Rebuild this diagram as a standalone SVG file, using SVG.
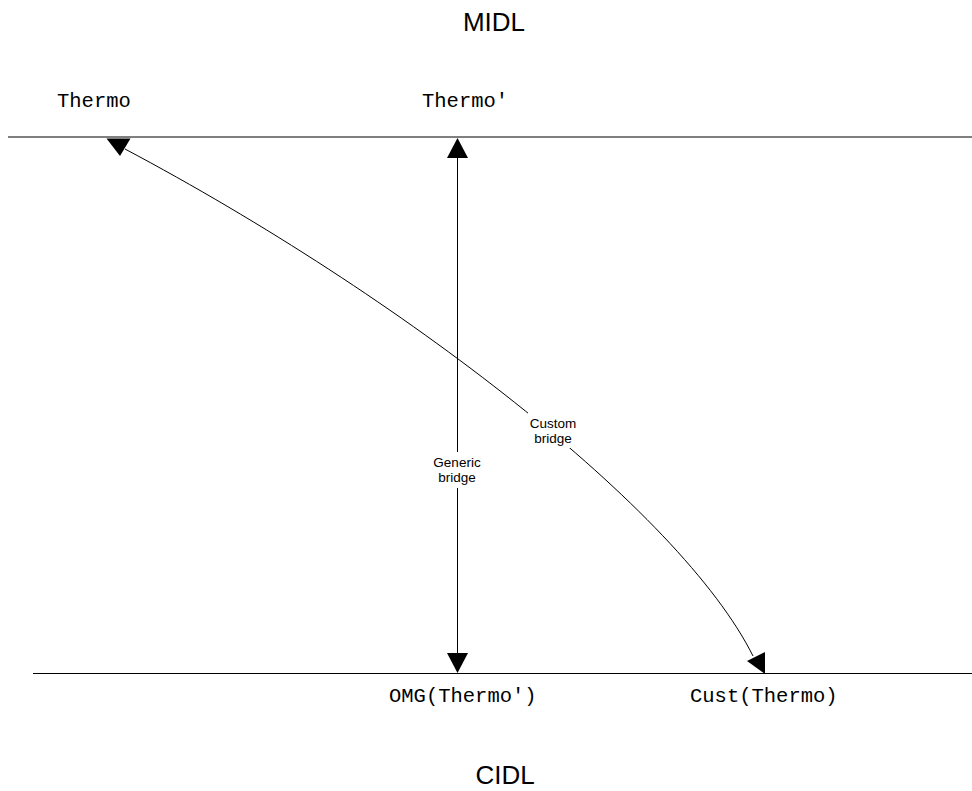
<svg xmlns="http://www.w3.org/2000/svg" width="972" height="791" viewBox="0 0 972 791">
  <style>
    .title { font-family: "Liberation Sans", Arial, sans-serif; font-size: 26px; fill: #000; text-anchor: middle; }
    .mono { font-family: "Courier New", "Liberation Mono", monospace; font-size: 20.5px; fill: #000; }
    .lbl { font-family: "Liberation Sans", Arial, sans-serif; font-size: 13.5px; fill: #000; text-anchor: middle; }
    .rule { stroke: #000; stroke-width: 1; fill: none; }
    .conn { stroke: #000; stroke-width: 1; fill: none; }
    .head { fill: #000; stroke: none; }
  </style>
  <rect width="972" height="791" fill="#fff"/>

  <!-- layer titles -->
  <g id="midl-layer">
    <text class="title" x="494" y="31">MIDL</text>
    <line class="rule" x1="8" y1="137" x2="972" y2="137"/>
  </g>
  <g id="cidl-layer">
    <text class="title" x="505" y="784">CIDL</text>
    <line class="rule" x1="33" y1="673.5" x2="972" y2="673.5"/>
  </g>

  <!-- interface nodes -->
  <g id="thermo"><text class="mono" x="57" y="107">Thermo</text></g>
  <g id="thermo-prime"><text class="mono" x="422" y="107">Thermo'</text></g>
  <g id="omg-thermo-prime"><text class="mono" x="389" y="702">OMG(Thermo')</text></g>
  <g id="cust-thermo"><text class="mono" x="690" y="702">Cust(Thermo)</text></g>

  <!-- bridges -->
  <g id="connectors">
    <!-- generic bridge: two-way vertical arrow -->
    <line class="conn" x1="457.5" y1="157" x2="457.5" y2="452"/>
    <line class="conn" x1="457.5" y1="488" x2="457.5" y2="654"/>
    <polygon class="head" points="457.5,138 447,158 468,158"/>
    <polygon class="head" points="457.5,673 447,653 468,653"/>
    <text class="lbl" x="457" y="467">Generic</text>
    <text class="lbl" x="457" y="482">bridge</text>

    <!-- custom bridge: curved two-way arrow -->
    <path class="conn" d="M125,149 C400,295 680,510 753,656"/>
    <rect x="528" y="413" width="50" height="35" fill="#fff"/>
    <polygon class="head" points="106.5,138.5 130.5,138.5 120,156"/>
    <polygon class="head" points="747,661 765,652 765,674"/>
    <text class="lbl" x="553" y="428">Custom</text>
    <text class="lbl" x="553" y="443">bridge</text>
  </g>
</svg>
